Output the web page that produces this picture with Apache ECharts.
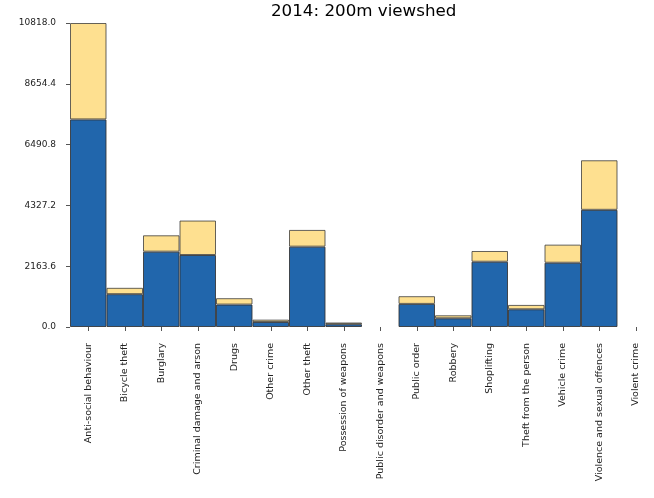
<!DOCTYPE html>
<html>
<head>
<meta charset="utf-8">
<script src="https://cdn.jsdelivr.net/npm/echarts@6/dist/echarts.min.js"></script>
<style>html,body{margin:0;padding:0;background:#fff}#c{width:654px;height:498px}</style>
</head>
<body>
<div id="c"></div>
<script>
var categories = ["Anti-social behaviour","Bicycle theft","Burglary","Criminal damage and arson","Drugs","Other crime","Other theft","Possession of weapons","Public disorder and weapons","Public order","Robbery","Shoplifting","Theft from the person","Vehicle crime","Violence and sexual offences","Violent crime"];
var lowerValues = [7387,1169,2681,2562,798,179,2859,100,0,822,310,2323,631,2287,4170,0];
var totalValues = [10818,1394,3263,3788,1025,262,3455,160,0,1096,417,2705,786,2931,5933,0];
var upperValues = [3431,225,582,1226,227,83,596,60,0,274,107,382,155,644,1763,0];
var yTicks = [0.0,2163.6,4327.2,6490.8,8654.4,10818.0];
var titleText = "2014: 200m viewshed";

function hideZero(arr){ return arr.map(function(v){ return v === 0 ? '-' : v; }); }

var chart = echarts.init(document.getElementById('c'));
var font = 'DejaVu Sans';
chart.setOption({
  animation: false,
  title: {text: titleText, left: 271, top: 3, padding: 0, textStyle: {fontFamily: font, fontSize: 16.7, fontWeight: 'normal', color: '#000'}},
  grid: {left: 70, right: -5, top: 23, bottom: 171, containLabel: false},
  xAxis: {
    type: 'category', data: categories, boundaryGap: true,
    axisLine: {show: false},
    axisTick: {show: true, alignWithLabel: true, length: 4, lineStyle: {color: '#555'}},
    axisLabel: {rotate: 90, interval: 0, margin: 16, fontFamily: font, fontSize: 9.5, color: '#222'}
  },
  yAxis: {
    type: 'value', min: 0, max: yTicks[yTicks.length-1], interval: yTicks[1],
    axisLine: {show: false},
    splitLine: {show: false},
    axisTick: {show: true, length: 4, inside: false, lineStyle: {color: '#555'}},
    axisLabel: {margin: 14, fontFamily: font, fontSize: 9, color: '#222', formatter: function(v){return v.toFixed(1);}}
  },
  series: [
    {type: 'bar', stack: 's', data: hideZero(lowerValues), barWidth: '100%', barCategoryGap: '0%',
     itemStyle: {color: '#2166ac', borderColor: 'rgba(50,50,50,0.85)', borderWidth: 1}},
    {type: 'bar', stack: 's', data: hideZero(upperValues), barWidth: '100%', barCategoryGap: '0%',
     itemStyle: {color: '#fee090', borderColor: 'rgba(50,50,50,0.75)', borderWidth: 1}}
  ]
});
</script>
</body>
</html>
